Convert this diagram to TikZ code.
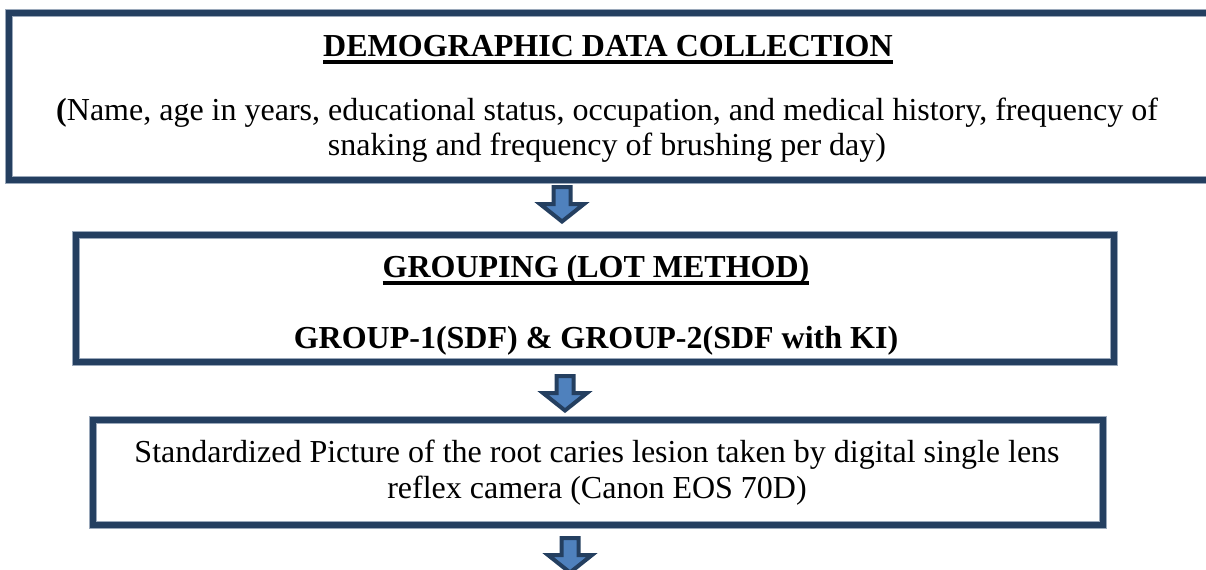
\documentclass[tikz,border=0pt]{standalone}
\usepackage{fontspec}
\setmainfont{Liberation Serif}
\usetikzlibrary{fit}
\definecolor{frame}{HTML}{243F60}
\definecolor{framehalo}{HTML}{9AA8BA}
\definecolor{arrowfill}{HTML}{4F81BD}
% heavy underline for the stage titles
\newcommand\thickul[1]{\setbox0\hbox{#1}\rlap{\rule[-3pt]{\wd0}{1.4pt}}\box0}

\begin{document}
\begin{tikzpicture}[x=0.375pt,y=-0.375pt,
  box/.style={draw=frame, line width=2.25pt, inner sep=0pt,
    preaction={draw=framehalo, line width=2.7pt}},
  txt/.style={anchor=base, inner sep=0pt, font=\fontsize{12}{14}\selectfont},
  txtb/.style={anchor=base, inner sep=0pt, font=\fontsize{12}{14}\selectfont\bfseries},
  downarrow/.pic={
    \draw[draw=frame, fill=arrowfill, line width=1.5pt, line join=miter]
      (-8.5,2) -- (8.5,2) -- (8.5,19) -- (22,19) -- (0,36.5) -- (-22,19) -- (-8.5,19) -- cycle;
  }
]
\useasboundingbox (0,0) rectangle (1206,569);
\clip (0,0) rectangle (1206,569);

% frames
\node[box, fit={(9,13) (1210,180)}] (demo) {};
\node[box, fit={(76,235) (1114,362)}] (group) {};
\node[box, fit={(93,420) (1103,525)}] (photo) {};

% block arrows between the stages
\pic (arr1) at (562,185) {downarrow};
\pic (arr2) at (565,374) {downarrow};
\pic (arr3) at (570,536) {downarrow};

% stage 1
\node[txtb] (demotitle) at (608,56) {\thickul{DEMOGRAPHIC DATA COLLECTION}};
\node[txt] (demol1) at (607,120) {{\bfseries(}Name, age in years, educational status, occupation, and medical history, frequency of};
\node[txt] (demol2) at (607,155) {snaking and frequency of brushing per day)};

% stage 2
\node[txtb] (grouptitle) at (596,277) {\thickul{GROUPING (LOT METHOD)}};
\node[txtb] (groupl1) at (596,348) {GROUP-1(SDF) \& GROUP-2(SDF with KI)};

% stage 3
\node[txt] (photol1) at (597,462) {Standardized Picture of the root caries lesion taken by digital single lens};
\node[txt] (photol2) at (597,498) {reflex camera (Canon EOS 70D)};
\end{tikzpicture}
\end{document}
